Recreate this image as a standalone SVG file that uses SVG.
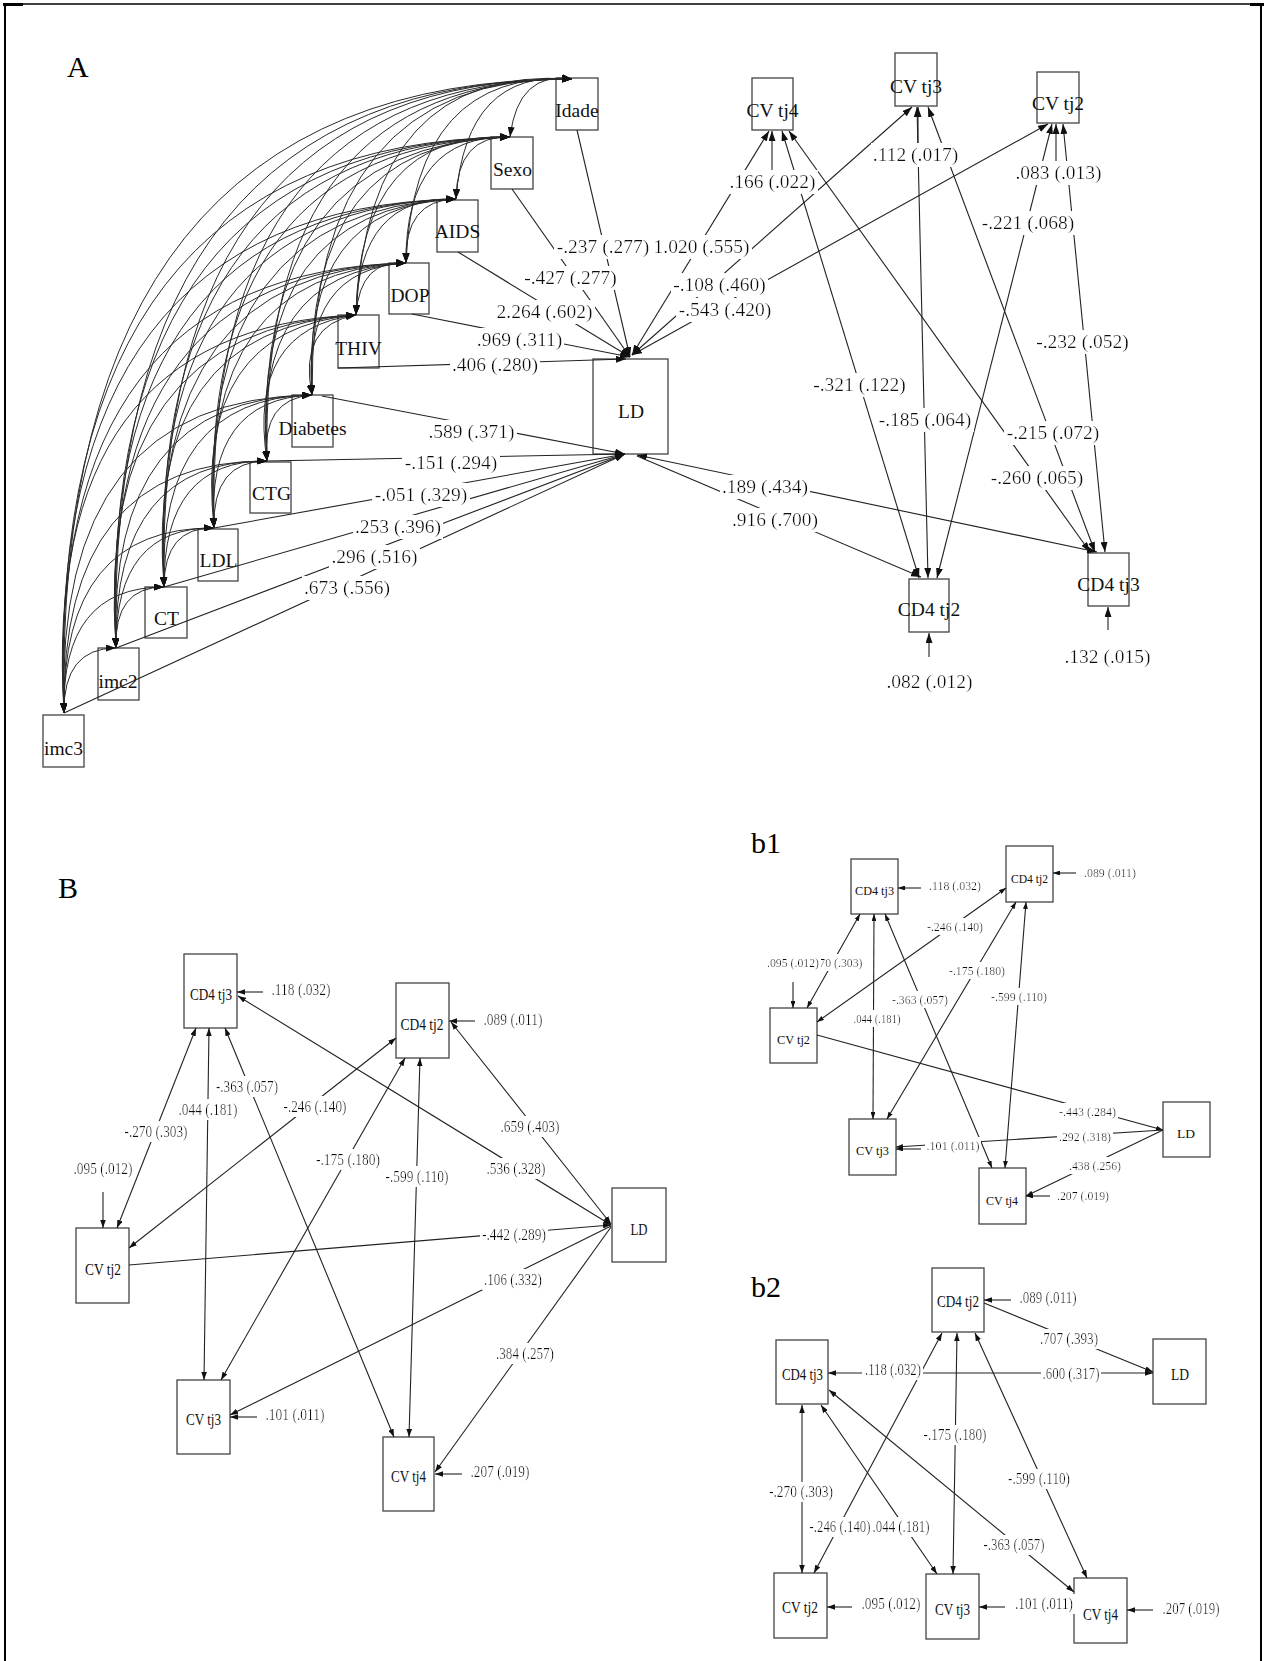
<svg xmlns="http://www.w3.org/2000/svg" width="1264" height="1661" viewBox="0 0 1264 1661">
<defs>
<style>
.frame{stroke:#000;fill:none}
.box{fill:#fff;stroke:#444;stroke-width:1.3}
.ln{fill:none;stroke:#222;stroke-width:1.1}
.arc{fill:none;stroke:#2a2a2a;stroke-width:1}
.t{font-family:"Liberation Serif","Times New Roman",serif;fill:#111;text-anchor:middle}
.tA{font-size:19.5px}
.tB{font-size:17px}
.t1{font-size:13.5px}
.t2{font-size:16px}
.lab text{filter:url(#bg)}
.panel{font-family:"Liberation Serif","Times New Roman",serif;font-size:30px;fill:#000}
</style>
<filter id="bg" x="-0.02" y="-0.04" width="1.04" height="1.08">
<feFlood flood-color="#fff"/>
<feComposite in="SourceGraphic" operator="over"/>
</filter>
<marker id="mA" viewBox="0 0 10 7" refX="10" refY="3.5" markerWidth="10" markerHeight="7" markerUnits="userSpaceOnUse" orient="auto-start-reverse"><path d="M0,0L10,3.5L0,7z" fill="#111"/></marker>
<marker id="mB" viewBox="0 0 10 7" refX="10" refY="3.5" markerWidth="8" markerHeight="5.6" markerUnits="userSpaceOnUse" orient="auto-start-reverse"><path d="M0,0L10,3.5L0,7z" fill="#111"/></marker>
<marker id="m1" viewBox="0 0 10 7" refX="10" refY="3.5" markerWidth="7" markerHeight="4.9" markerUnits="userSpaceOnUse" orient="auto-start-reverse"><path d="M0,0L10,3.5L0,7z" fill="#111"/></marker>
<marker id="m2" viewBox="0 0 10 7" refX="10" refY="3.5" markerWidth="8" markerHeight="5.6" markerUnits="userSpaceOnUse" orient="auto-start-reverse"><path d="M0,0L10,3.5L0,7z" fill="#111"/></marker>
</defs>
<rect width="1264" height="1661" fill="#fff"/>

<!-- page frame -->
<g id="frame">
<path class="frame" d="M4,4H1262" stroke-width="1.6"/>
<path class="frame" d="M5,4V1661" stroke-width="2"/>
<path class="frame" d="M1261,4V1661" stroke-width="2"/>
<rect x="3" y="3" width="20" height="3" fill="#000"/>
<rect x="1250" y="3" width="14" height="3" fill="#000"/>
</g>

<!-- panel titles -->
<text class="panel" x="67" y="77">A</text>
<text class="panel" x="58" y="898">B</text>
<text class="panel" x="751" y="853">b1</text>
<text class="panel" x="751" y="1297">b2</text>

<!-- ===== Panel A nodes ===== -->
<g id="nodesA" class="t tA">
<g id="a-idade"><rect class="box" x="556" y="78" width="42" height="52"/><text x="577" y="117">Idade</text></g>
<g id="a-sexo"><rect class="box" x="491" y="137" width="42" height="52"/><text x="512.5" y="176">Sexo</text></g>
<g id="a-aids"><rect class="box" x="437" y="200" width="41" height="52"/><text x="457.5" y="238">AIDS</text></g>
<g id="a-dop"><rect class="box" x="389" y="263" width="40" height="51"/><text x="410" y="302">DOP</text></g>
<g id="a-thiv"><rect class="box" x="338" y="315" width="41" height="53"/><text x="358.5" y="355">THIV</text></g>
<g id="a-diabetes"><rect class="box" x="292" y="395" width="41" height="52"/><text x="312.5" y="435">Diabetes</text></g>
<g id="a-ctg"><rect class="box" x="250" y="462" width="41" height="51"/><text x="271.5" y="500">CTG</text></g>
<g id="a-ldl"><rect class="box" x="198" y="529" width="40" height="52"/><text x="218.5" y="567">LDL</text></g>
<g id="a-ct"><rect class="box" x="145" y="587" width="42" height="51"/><text x="166.5" y="625">CT</text></g>
<g id="a-imc2"><rect class="box" x="98" y="648" width="41" height="52"/><text x="118" y="688">imc2</text></g>
<g id="a-imc3"><rect class="box" x="43" y="715" width="41" height="52"/><text x="63.5" y="755">imc3</text></g>
<g id="a-ld"><rect class="box" x="593" y="359" width="75" height="95"/><text x="631" y="418">LD</text></g>
<g id="a-cvtj4"><rect class="box" x="752" y="78" width="41" height="52"/><text x="772.5" y="117">CV tj4</text></g>
<g id="a-cvtj3"><rect class="box" x="895" y="53" width="42" height="53"/><text x="916" y="93">CV tj3</text></g>
<g id="a-cvtj2"><rect class="box" x="1037" y="72" width="42" height="51"/><text x="1058" y="110">CV tj2</text></g>
<g id="a-cd4tj2"><rect class="box" x="909" y="579" width="40" height="53"/><text x="929" y="616">CD4 tj2</text></g>
<g id="a-cd4tj3"><rect class="box" x="1088" y="553" width="41" height="53"/><text x="1108.5" y="591">CD4 tj3</text></g>
</g>

<!-- ===== Panel A connectors ===== -->
<g id="connectorsA">
<!-- covariances among the exogenous variables -->
<g class="arc" marker-start="url(#mA)" marker-end="url(#mA)">
<path d="M572,79q-54,-8 -62,58"/>
<path d="M572,79q-106,-10 -116,120"/>
<path d="M572,79q-158,-9 -166,184"/>
<path d="M572,79q-204,-14 -216,236"/>
<path d="M572,79q-262,-4 -260,316"/>
<path d="M572,79q-313,0 -305,382"/>
<path d="M572,79q-368,1 -358,449"/>
<path d="M572,79q-417,-1 -408,508"/>
<path d="M572,79q-467,0 -456,569"/>
<path d="M572,79q-520,0 -508,634"/>
<path d="M510,137q-53,-2 -54,62"/>
<path d="M510,137q-105,-2 -104,126"/>
<path d="M510,137q-151,-6 -154,178"/>
<path d="M510,137q-208,4 -198,258"/>
<path d="M510,137q-259,8 -243,324"/>
<path d="M510,137q-314,8 -296,391"/>
<path d="M510,137q-363,7 -346,450"/>
<path d="M510,137q-413,7 -394,511"/>
<path d="M510,137q-466,7 -446,576"/>
<path d="M456,199q-52,1 -50,64"/>
<path d="M456,199q-98,-4 -100,116"/>
<path d="M456,199q-156,6 -144,196"/>
<path d="M456,199q-207,10 -189,262"/>
<path d="M456,199q-261,11 -242,329"/>
<path d="M456,199q-311,9 -292,388"/>
<path d="M456,199q-361,10 -340,449"/>
<path d="M456,199q-414,10 -392,514"/>
<path d="M406,263q-46,-4 -50,52"/>
<path d="M406,263q-104,6 -94,132"/>
<path d="M406,263q-155,10 -139,198"/>
<path d="M406,263q-209,10 -192,265"/>
<path d="M406,263q-259,9 -242,324"/>
<path d="M406,263q-309,9 -290,385"/>
<path d="M406,263q-362,9 -342,450"/>
<path d="M356,315q-58,10 -44,80"/>
<path d="M356,315q-109,14 -89,146"/>
<path d="M356,315q-163,14 -142,213"/>
<path d="M356,315q-213,13 -192,272"/>
<path d="M356,315q-263,13 -240,333"/>
<path d="M356,315q-316,13 -292,398"/>
<path d="M312,395q-51,4 -45,66"/>
<path d="M312,395q-106,4 -98,133"/>
<path d="M312,395q-155,3 -148,192"/>
<path d="M312,395q-205,3 -196,253"/>
<path d="M312,395q-258,3 -248,318"/>
<path d="M267,461q-55,0 -53,67"/>
<path d="M267,461q-104,-1 -103,126"/>
<path d="M267,461q-154,-1 -151,187"/>
<path d="M267,461q-207,-1 -203,252"/>
<path d="M214,528q-50,-1 -50,59"/>
<path d="M214,528q-99,-1 -98,120"/>
<path d="M214,528q-153,-1 -150,185"/>
<path d="M164,587q-50,0 -48,61"/>
<path d="M164,587q-103,0 -100,126"/>
<path d="M116,648q-53,0 -52,65"/>
</g>
<!-- regressions of LD on the exogenous variables -->
<g class="ln" marker-end="url(#mA)">
<line x1="577" y1="130" x2="630" y2="357"/>
<line x1="512" y1="189" x2="630" y2="357"/>
<line x1="458" y1="252" x2="630" y2="357"/>
<line x1="412" y1="314" x2="630" y2="357"/>
<line x1="338" y1="368" x2="626" y2="359"/>
<line x1="322" y1="396" x2="625" y2="454"/>
<line x1="267" y1="461" x2="625" y2="454"/>
<line x1="214" y1="528" x2="625" y2="454"/>
<line x1="164" y1="587" x2="625" y2="454"/>
<line x1="116" y1="648" x2="625" y2="454"/>
<line x1="64" y1="713" x2="625" y2="454"/>
</g>
<!-- LD, CV and CD4 associations -->
<g class="ln" marker-start="url(#mA)" marker-end="url(#mA)">
<line x1="632" y1="355" x2="769" y2="131"/>
<line x1="632" y1="355" x2="912" y2="107"/>
<line x1="632" y1="355" x2="1048" y2="124"/>
<line x1="782" y1="131" x2="919" y2="578"/>
<line x1="789" y1="131" x2="1090" y2="552"/>
<line x1="917" y1="107" x2="928" y2="578"/>
<line x1="928" y1="107" x2="1095" y2="552"/>
<line x1="1052" y1="124" x2="937" y2="578"/>
<line x1="1063" y1="124" x2="1105" y2="552"/>
</g>
<line class="ln" x1="637" y1="455" x2="1097" y2="552" marker-start="url(#mA)" marker-end="url(#mA)"/>
<line class="ln" x1="637" y1="456" x2="921" y2="577" marker-end="url(#mA)"/>
<!-- residual variances -->
<g class="ln" marker-end="url(#mA)">
<line x1="772" y1="170" x2="772" y2="131"/>
<line x1="918" y1="145" x2="918" y2="107"/>
<line x1="1056" y1="163" x2="1056" y2="124"/>
<line x1="929" y1="657" x2="929" y2="633"/>
<line x1="1108" y1="630" x2="1108" y2="607"/>
</g>
</g>

<!-- Panel A labels -->
<g id="labelsA" class="t tA lab">
<text x="603" y="253">-.237 (.277)</text>
<text x="570.5" y="284">-.427 (.277)</text>
<text x="544.5" y="318">2.264 (.602)</text>
<text x="519.5" y="346">.969 (.311)</text>
<text x="495" y="371">.406 (.280)</text>
<text x="701.5" y="253">1.020 (.555)</text>
<text x="719.5" y="291">-.108 (.460)</text>
<text x="725" y="316">-.543 (.420)</text>
<text x="772.5" y="188">.166 (.022)</text>
<text x="915.5" y="161">.112 (.017)</text>
<text x="1058.5" y="179">.083 (.013)</text>
<text x="1028" y="229">-.221 (.068)</text>
<text x="1082.5" y="348">-.232 (.052)</text>
<text x="859.5" y="391">-.321 (.122)</text>
<text x="925" y="426">-.185 (.064)</text>
<text x="1053" y="439">-.215 (.072)</text>
<text x="1037" y="484">-.260 (.065)</text>
<text x="765" y="493">.189 (.434)</text>
<text x="775" y="526">.916 (.700)</text>
<text x="929.5" y="688">.082 (.012)</text>
<text x="1107.5" y="663">.132 (.015)</text>
<text x="471.5" y="438">.589 (.371)</text>
<text x="451" y="469">-.151 (.294)</text>
<text x="421" y="501">-.051 (.329)</text>
<text x="398" y="533">.253 (.396)</text>
<text x="374.5" y="563">.296 (.516)</text>
<text x="347" y="594">.673 (.556)</text>
</g>

<!-- ===== Panel B ===== -->
<g id="nodesB" class="t tB">
<g id="b-cd4tj3"><rect class="box" x="184" y="954" width="53" height="74"/><text x="211" y="1000" textLength="42" lengthAdjust="spacingAndGlyphs">CD4 tj3</text></g>
<g id="b-cd4tj2"><rect class="box" x="396" y="983" width="53" height="75"/><text x="422" y="1030" textLength="43" lengthAdjust="spacingAndGlyphs">CD4 tj2</text></g>
<g id="b-ld"><rect class="box" x="612" y="1188" width="54" height="74"/><text x="639" y="1235" textLength="17" lengthAdjust="spacingAndGlyphs">LD</text></g>
<g id="b-cvtj2"><rect class="box" x="76" y="1228" width="53" height="75"/><text x="103" y="1275" textLength="36" lengthAdjust="spacingAndGlyphs">CV tj2</text></g>
<g id="b-cvtj3"><rect class="box" x="177" y="1380" width="53" height="74"/><text x="203.5" y="1425" textLength="35" lengthAdjust="spacingAndGlyphs">CV tj3</text></g>
<g id="b-cvtj4"><rect class="box" x="383" y="1437" width="51" height="74"/><text x="408.5" y="1482" textLength="35" lengthAdjust="spacingAndGlyphs">CV tj4</text></g>
</g>
<g id="connectorsB" class="ln">
<g marker-start="url(#mB)" marker-end="url(#mB)">
<line x1="196" y1="1028" x2="117" y2="1228"/>
<line x1="209" y1="1028" x2="204" y2="1380"/>
<line x1="225" y1="1028" x2="394" y2="1437"/>
<line x1="396" y1="1038" x2="129" y2="1248"/>
<line x1="405" y1="1058" x2="221" y2="1380"/>
<line x1="420" y1="1058" x2="409" y2="1437"/>
<line x1="451" y1="1022" x2="611" y2="1224"/>
<line x1="238" y1="996" x2="611" y2="1225"/>
</g>
<g marker-end="url(#mB)">
<line x1="129" y1="1265" x2="611" y2="1225"/>
<line x1="611" y1="1226" x2="230" y2="1415"/>
<line x1="611" y1="1227" x2="435" y2="1472"/>
<line x1="263" y1="992" x2="237" y2="992"/>
<line x1="475" y1="1021" x2="449" y2="1021"/>
<line x1="103" y1="1192" x2="103" y2="1228"/>
<line x1="257" y1="1417" x2="230" y2="1417"/>
<line x1="462" y1="1474" x2="435" y2="1474"/>
</g>
</g>
<g id="labelsB" class="t tB lab">
<text x="301" y="995" textLength="59" lengthAdjust="spacingAndGlyphs">.118 (.032)</text>
<text x="513" y="1025" textLength="59" lengthAdjust="spacingAndGlyphs">.089 (.011)</text>
<text x="156" y="1137" textLength="63" lengthAdjust="spacingAndGlyphs">-.270 (.303)</text>
<text x="103" y="1174" textLength="59" lengthAdjust="spacingAndGlyphs">.095 (.012)</text>
<text x="208" y="1115" textLength="59" lengthAdjust="spacingAndGlyphs">.044 (.181)</text>
<text x="247" y="1092" textLength="62" lengthAdjust="spacingAndGlyphs">-.363 (.057)</text>
<text x="315" y="1112" textLength="63" lengthAdjust="spacingAndGlyphs">-.246 (.140)</text>
<text x="348" y="1165" textLength="64" lengthAdjust="spacingAndGlyphs">-.175 (.180)</text>
<text x="417" y="1182" textLength="63" lengthAdjust="spacingAndGlyphs">-.599 (.110)</text>
<text x="530" y="1132" textLength="59" lengthAdjust="spacingAndGlyphs">.659 (.403)</text>
<text x="516" y="1174" textLength="59" lengthAdjust="spacingAndGlyphs">.536 (.328)</text>
<text x="514" y="1240" textLength="64" lengthAdjust="spacingAndGlyphs">-.442 (.289)</text>
<text x="513" y="1285" textLength="58" lengthAdjust="spacingAndGlyphs">.106 (.332)</text>
<text x="295" y="1420" textLength="59" lengthAdjust="spacingAndGlyphs">.101 (.011)</text>
<text x="525" y="1359" textLength="58" lengthAdjust="spacingAndGlyphs">.384 (.257)</text>
<text x="500" y="1477" textLength="59" lengthAdjust="spacingAndGlyphs">.207 (.019)</text>
</g>

<!-- ===== Panel b1 ===== -->
<g id="nodesb1" class="t t1">
<g id="b1-cd4tj3"><rect class="box" x="851" y="859" width="47" height="55"/><text x="874.5" y="895" textLength="39" lengthAdjust="spacingAndGlyphs">CD4 tj3</text></g>
<g id="b1-cd4tj2"><rect class="box" x="1006" y="846" width="47" height="56"/><text x="1029.5" y="883" textLength="37" lengthAdjust="spacingAndGlyphs">CD4 tj2</text></g>
<g id="b1-cvtj2"><rect class="box" x="770" y="1008" width="47" height="55"/><text x="793.5" y="1044" textLength="33" lengthAdjust="spacingAndGlyphs">CV tj2</text></g>
<g id="b1-cvtj3"><rect class="box" x="849" y="1119" width="47" height="56"/><text x="872.5" y="1155" textLength="33" lengthAdjust="spacingAndGlyphs">CV tj3</text></g>
<g id="b1-cvtj4"><rect class="box" x="979" y="1168" width="47" height="56"/><text x="1002" y="1205" textLength="32" lengthAdjust="spacingAndGlyphs">CV tj4</text></g>
<g id="b1-ld"><rect class="box" x="1163" y="1102" width="47" height="55"/><text x="1186" y="1138" textLength="18" lengthAdjust="spacingAndGlyphs">LD</text></g>
</g>
<g id="connectorsb1" class="ln">
<g marker-start="url(#m1)" marker-end="url(#m1)">
<line x1="860" y1="914" x2="807" y2="1008"/>
<line x1="874" y1="914" x2="873" y2="1119"/>
<line x1="885" y1="914" x2="992" y2="1168"/>
<line x1="1006" y1="888" x2="817" y2="1022"/>
<line x1="1016" y1="902" x2="887" y2="1119"/>
<line x1="1026" y1="902" x2="1005" y2="1168"/>
</g>
<g marker-end="url(#m1)">
<line x1="817" y1="1035" x2="1163" y2="1130"/>
<line x1="1163" y1="1130" x2="896" y2="1147"/>
<line x1="1163" y1="1130" x2="1026" y2="1196"/>
<line x1="921" y1="888" x2="898" y2="888"/>
<line x1="1076" y1="873" x2="1053" y2="873"/>
<line x1="793" y1="982" x2="793" y2="1008"/>
<line x1="921" y1="1149" x2="896" y2="1149"/>
<line x1="1050" y1="1196" x2="1026" y2="1196"/>
</g>
</g>
<g id="labelsb1" class="t t1 lab">
<text x="955" y="890" textLength="52" lengthAdjust="spacingAndGlyphs">.118 (.032)</text>
<text x="1110" y="877" textLength="52" lengthAdjust="spacingAndGlyphs">.089 (.011)</text>
<text x="955" y="931" textLength="56" lengthAdjust="spacingAndGlyphs">-.246 (.140)</text>
<text x="834.5" y="967" textLength="56" lengthAdjust="spacingAndGlyphs">-.270 (.303)</text>
<text x="793" y="967" textLength="52" lengthAdjust="spacingAndGlyphs">.095 (.012)</text>
<text x="977" y="975" textLength="56" lengthAdjust="spacingAndGlyphs">-.175 (.180)</text>
<text x="920" y="1004" textLength="56" lengthAdjust="spacingAndGlyphs">-.363 (.057)</text>
<text x="1019" y="1001" textLength="56" lengthAdjust="spacingAndGlyphs">-.599 (.110)</text>
<text x="877" y="1023" textLength="47" lengthAdjust="spacingAndGlyphs">.044 (.181)</text>
<text x="1087.5" y="1116" textLength="57" lengthAdjust="spacingAndGlyphs">-.443 (.284)</text>
<text x="1085" y="1141" textLength="52" lengthAdjust="spacingAndGlyphs">.292 (.318)</text>
<text x="953" y="1150" textLength="53" lengthAdjust="spacingAndGlyphs">.101 (.011)</text>
<text x="1095" y="1170" textLength="52" lengthAdjust="spacingAndGlyphs">.438 (.256)</text>
<text x="1083" y="1200" textLength="52" lengthAdjust="spacingAndGlyphs">.207 (.019)</text>
</g>

<!-- ===== Panel b2 ===== -->
<g id="nodesb2" class="t t2">
<g id="b2-cd4tj2"><rect class="box" x="932" y="1268" width="52" height="64"/><text x="958" y="1307" textLength="42" lengthAdjust="spacingAndGlyphs">CD4 tj2</text></g>
<g id="b2-cd4tj3"><rect class="box" x="776" y="1340" width="52" height="64"/><text x="802.5" y="1380" textLength="41" lengthAdjust="spacingAndGlyphs">CD4 tj3</text></g>
<g id="b2-ld"><rect class="box" x="1153" y="1339" width="53" height="65"/><text x="1180" y="1380" textLength="18" lengthAdjust="spacingAndGlyphs">LD</text></g>
<g id="b2-cvtj2"><rect class="box" x="774" y="1573" width="53" height="65"/><text x="800" y="1613" textLength="36" lengthAdjust="spacingAndGlyphs">CV tj2</text></g>
<g id="b2-cvtj3"><rect class="box" x="926" y="1574" width="53" height="65"/><text x="952.5" y="1615" textLength="35" lengthAdjust="spacingAndGlyphs">CV tj3</text></g>
<g id="b2-cvtj4"><rect class="box" x="1074" y="1578" width="53" height="65"/><text x="1100.5" y="1620" textLength="35" lengthAdjust="spacingAndGlyphs">CV tj4</text></g>
</g>
<g id="connectorsb2" class="ln">
<g marker-start="url(#m2)" marker-end="url(#m2)">
<line x1="802" y1="1405" x2="802" y2="1573"/>
<line x1="942" y1="1333" x2="814" y2="1573"/>
<line x1="957" y1="1333" x2="953" y2="1574"/>
<line x1="975" y1="1333" x2="1087" y2="1578"/>
<line x1="821" y1="1405" x2="937" y2="1574"/>
<line x1="829" y1="1390" x2="1074" y2="1592"/>
</g>
<g marker-end="url(#m2)">
<line x1="984" y1="1303" x2="1153" y2="1372"/>
<line x1="880" y1="1373" x2="1153" y2="1373"/>
<line x1="1011" y1="1300" x2="984" y2="1300"/>
<line x1="862" y1="1373" x2="828" y2="1373"/>
<line x1="852" y1="1607" x2="827" y2="1607"/>
<line x1="1005" y1="1607" x2="979" y2="1607"/>
<line x1="1153" y1="1610" x2="1127" y2="1610"/>
</g>
</g>
<g id="labelsb2" class="t t2 lab">
<text x="1048" y="1303" textLength="57" lengthAdjust="spacingAndGlyphs">.089 (.011)</text>
<text x="1069" y="1344" textLength="58" lengthAdjust="spacingAndGlyphs">.707 (.393)</text>
<text x="893" y="1375" textLength="56" lengthAdjust="spacingAndGlyphs">.118 (.032)</text>
<text x="1071" y="1379" textLength="57" lengthAdjust="spacingAndGlyphs">.600 (.317)</text>
<text x="955" y="1440" textLength="63" lengthAdjust="spacingAndGlyphs">-.175 (.180)</text>
<text x="801" y="1497" textLength="64" lengthAdjust="spacingAndGlyphs">-.270 (.303)</text>
<text x="1039" y="1484" textLength="62" lengthAdjust="spacingAndGlyphs">-.599 (.110)</text>
<text x="840" y="1532" textLength="61" lengthAdjust="spacingAndGlyphs">-.246 (.140)</text>
<text x="901" y="1532" textLength="57" lengthAdjust="spacingAndGlyphs">.044 (.181)</text>
<text x="1014" y="1550" textLength="61" lengthAdjust="spacingAndGlyphs">-.363 (.057)</text>
<text x="891" y="1609" textLength="59" lengthAdjust="spacingAndGlyphs">.095 (.012)</text>
<text x="1044" y="1609" textLength="58" lengthAdjust="spacingAndGlyphs">.101 (.011)</text>
<text x="1191" y="1614" textLength="57" lengthAdjust="spacingAndGlyphs">.207 (.019)</text>
</g>
</svg>
